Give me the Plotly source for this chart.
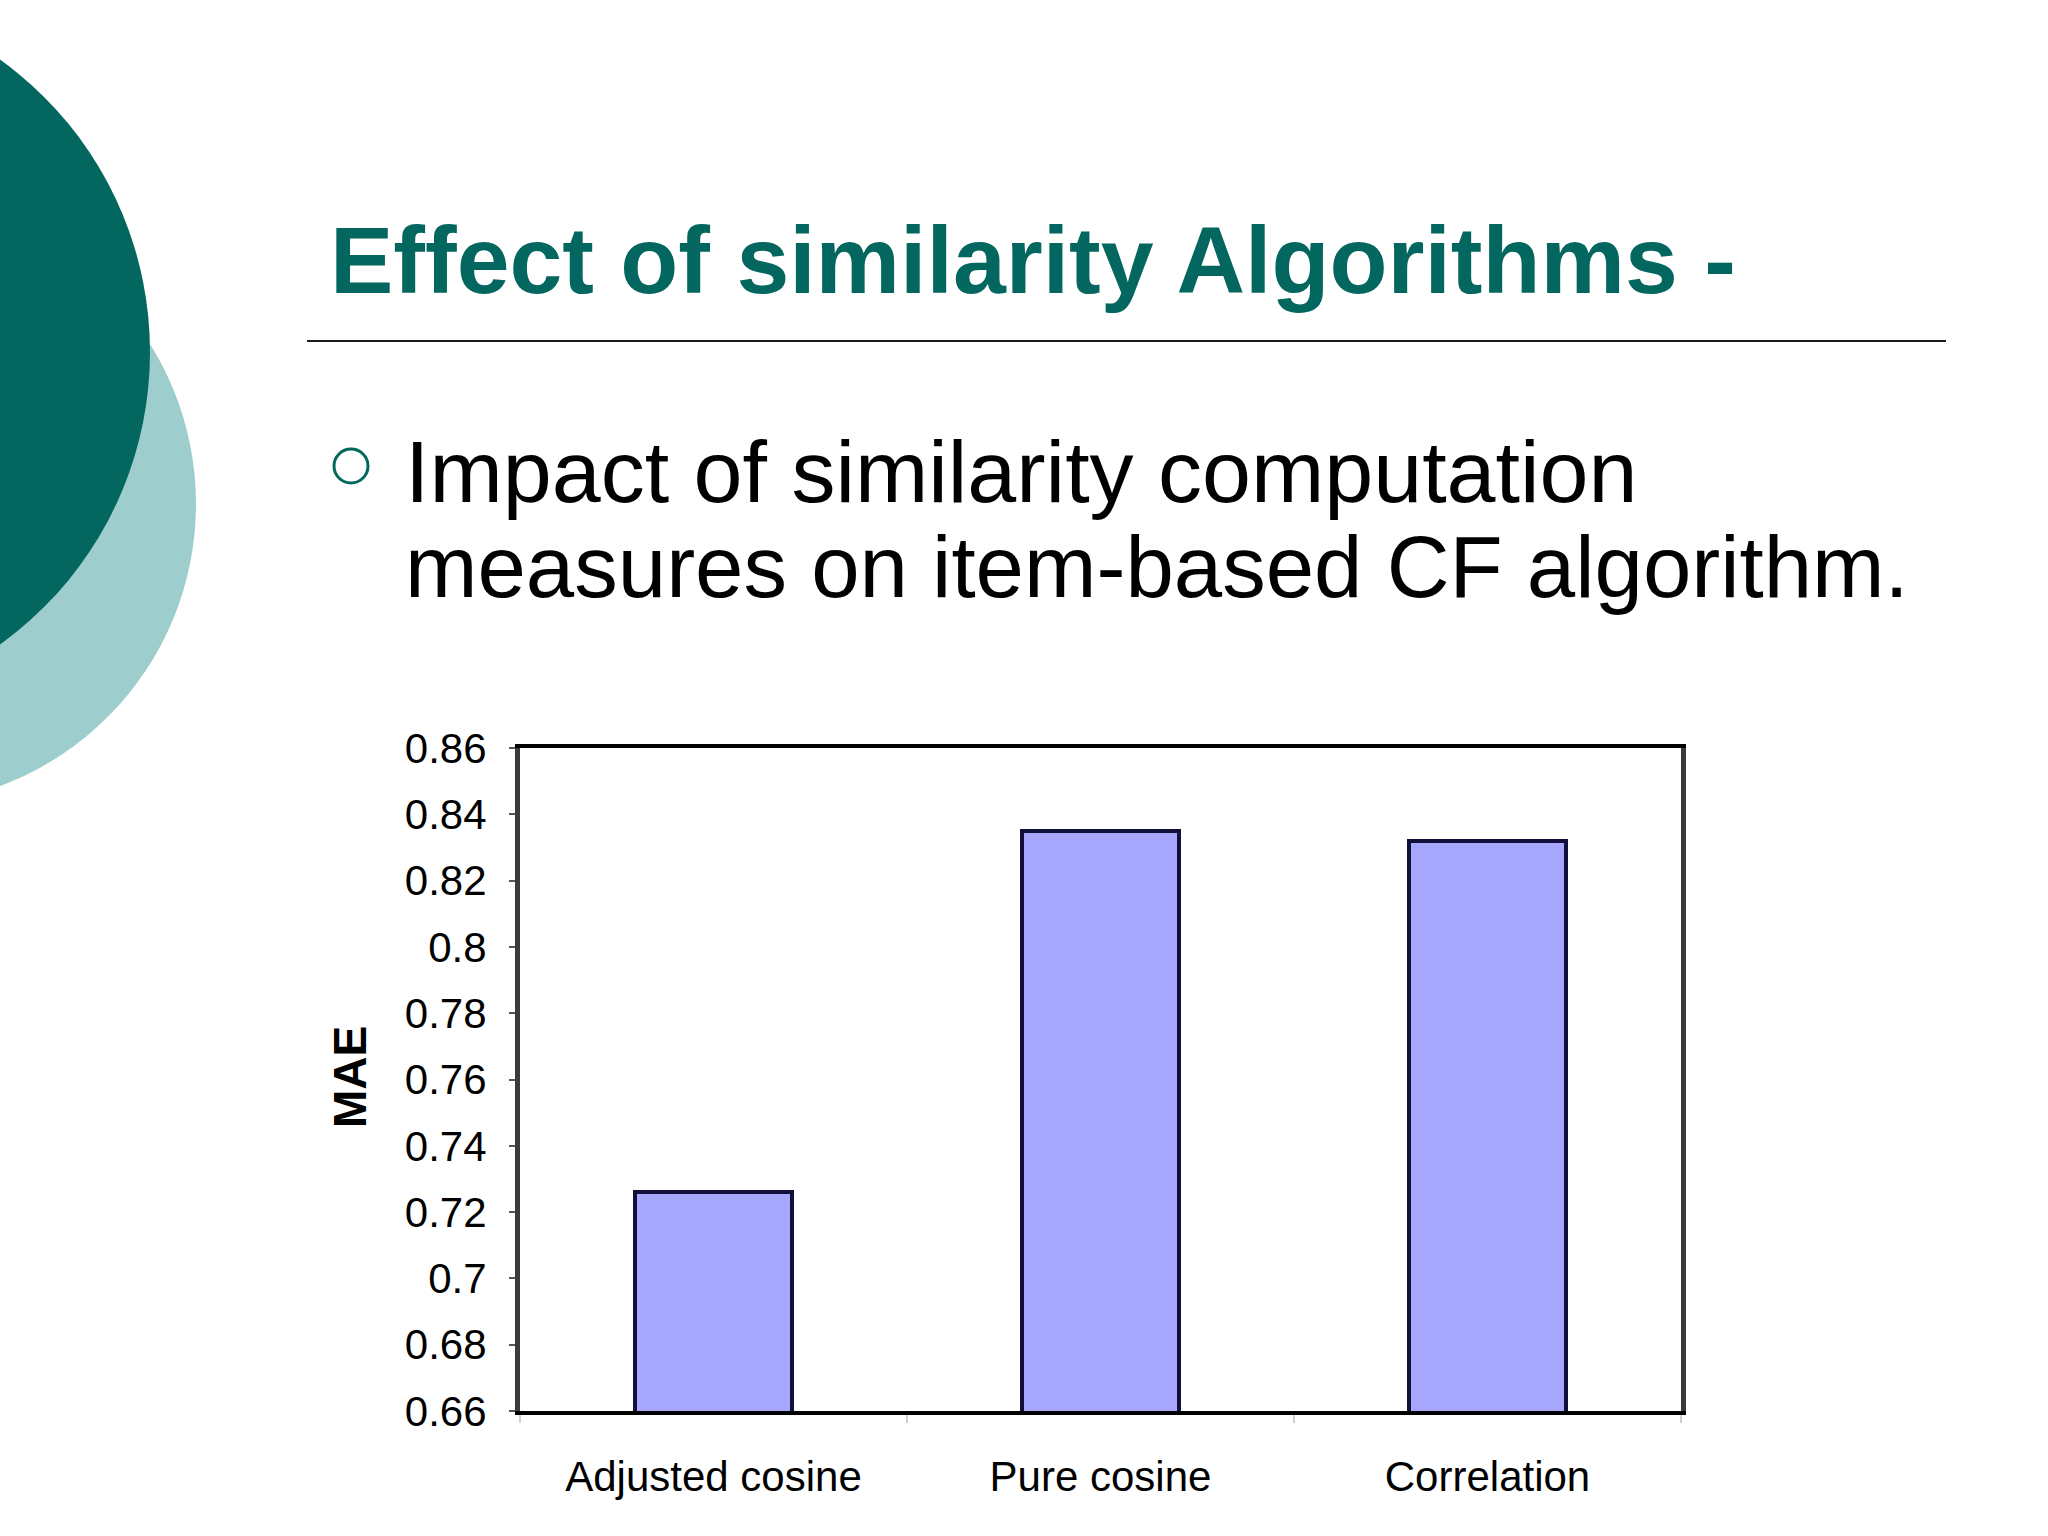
import plotly.graph_objects as go

# chart data
methods = ["Adjusted cosine", "Pure cosine", "Correlation"]
mae = [0.726, 0.835, 0.832]
y_ticks = [0.66, 0.68, 0.70, 0.72, 0.74, 0.76, 0.78, 0.80, 0.82, 0.84, 0.86]
y_tick_text = ["0.66", "0.68", "0.7", "0.72", "0.74", "0.76", "0.78", "0.8", "0.82", "0.84", "0.86"]

title_text = "Effect of similarity Algorithms -"
bullet_lines = ["Impact of similarity computation",
                "measures on item-based CF algorithm."]

W, H = 2048, 1536
L, R, T, B = 520, 367, 748, 125
pw = W - L - R
ph = H - T - B


def px(x):
    return (x - L) / pw


def py(y):
    return (H - B - y) / ph


TEAL = "#03675f"
LIGHT_TEAL = "#9dcdcd"
tick_font = "Liberation Sans, Arial"

fig = go.Figure(go.Bar(
    x=methods,
    y=mae,
    width=0.405,
    marker=dict(color="#a6a6fd", line=dict(color="#10103a", width=4)),
))

fig.update_layout(
    width=W, height=H,
    margin=dict(l=L, r=R, t=T, b=B),
    paper_bgcolor="white",
    plot_bgcolor="white",
    showlegend=False,
    bargap=0,
)

fig.update_xaxes(
    showline=True, linecolor="black", linewidth=4, mirror=True,
    ticks="outside", tickson="boundaries", ticklen=8, tickcolor="#d0d0d0", tickwidth=2,
    ticklabelstandoff=26,
    tickfont=dict(family=tick_font, size=42, color="black"),
    showgrid=False,
)
fig.update_yaxes(
    range=[0.66, 0.86],
    tickvals=y_ticks, ticktext=y_tick_text,
    showline=True, linecolor="#3a3a3a", linewidth=5, mirror=True,
    ticks="outside", ticklen=6, tickcolor="#555555", tickwidth=2,
    ticklabelstandoff=14,
    tickfont=dict(family=tick_font, size=42, color="black"),
    showgrid=False, zeroline=False,
)

shapes = []
# decorative circles on the left
shapes.append(dict(type="circle", xref="paper", yref="paper", layer="below",
                   x0=px(-105 - 301), x1=px(-105 + 301), y0=py(504 - 301), y1=py(504 + 301),
                   fillcolor=LIGHT_TEAL, line=dict(width=0)))
shapes.append(dict(type="circle", xref="paper", yref="paper", layer="below",
                   x0=px(-210 - 360), x1=px(-210 + 360), y0=py(352 - 360), y1=py(352 + 360),
                   fillcolor=TEAL, line=dict(width=0)))
# rule under the title
shapes.append(dict(type="line", xref="paper", yref="paper",
                   x0=px(307), x1=px(1946), y0=py(341), y1=py(341),
                   line=dict(color="#1a1a1a", width=2)))
# bullet
shapes.append(dict(type="circle", xref="paper", yref="paper",
                   x0=px(351 - 17), x1=px(351 + 17), y0=py(466 - 17), y1=py(466 + 17),
                   line=dict(color=TEAL, width=3), fillcolor="rgba(0,0,0,0)"))
fig.update_layout(shapes=shapes)

annotations = [
    dict(text="<b>" + title_text + "</b>", x=px(328), y=py(260), xref="paper", yref="paper",
         xanchor="left", yanchor="middle", showarrow=False,
         font=dict(family="Liberation Sans, Arial", size=95, color=TEAL)),
    dict(text=bullet_lines[0], x=px(403), y=py(472), xref="paper", yref="paper",
         xanchor="left", yanchor="middle", showarrow=False,
         font=dict(family="Liberation Sans, Arial", size=88, color="black")),
    dict(text=bullet_lines[1], x=px(403), y=py(566), xref="paper", yref="paper",
         xanchor="left", yanchor="middle", showarrow=False,
         font=dict(family="Liberation Sans, Arial", size=87, color="black")),
    dict(text="<b>MAE</b>", x=px(350), y=py(1077), xref="paper", yref="paper",
         xanchor="center", yanchor="middle", textangle=-90, showarrow=False,
         font=dict(family="Liberation Sans, Arial", size=46, color="black")),
]
fig.update_layout(annotations=annotations)

# drop the browser's default page margin so the figure sits at the window corner
fig.write_html("out.html", config={"displayModeBar": False},
               post_script="document.body.style.margin='0';")
